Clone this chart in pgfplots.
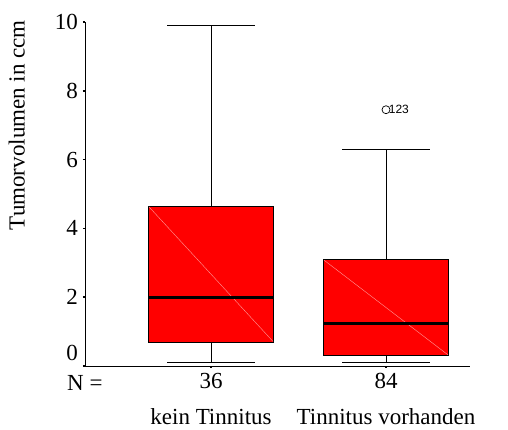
\documentclass[border=0pt]{standalone}
\usepackage{fontspec}
\setmainfont{Liberation Serif}
\newfontfamily\arialf{Liberation Sans}
\usepackage{pgfplots}
\pgfplotsset{compat=1.18}
\usepgfplotslibrary{statistics}
\begin{document}
\fontsize{23}{27}\selectfont
\begin{tikzpicture}
\path[use as bounding box] (-85pt,-64pt) rectangle (423pt,366pt);
\begin{axis}[
  at={(0,0)}, anchor=south west,
  scale only axis, width=385pt, height=344pt,
  xmin=0.28, xmax=2.48, ymin=0, ymax=10,
  axis lines=left, axis line style={-, line width=0.8pt, black},
  clip=false,
  ytick={2,4,6,8,10},
  extra y ticks={0},
  extra y tick style={yticklabel style={yshift=13pt}},
  xtick={1,2},
  xticklabels={{36\\[9pt]kein Tinnitus},{84\\[9pt]Tinnitus vorhanden}},
  xticklabel style={align=center, inner sep=5pt},
  yticklabel style={inner sep=5pt},
  tick align=outside, major tick length=2pt,
  tick style={line width=1.5pt, black},
  /pgf/number format/assume math mode=true,
  ylabel={Tumorvolumen in ccm},
  ylabel style={at={(axis description cs:-0.177,0.70)}, anchor=center},
  boxplot/draw direction=y,
  boxplot/box extend=0.714,
  boxplot/whisker extend=0.5,
  boxplot/every box/.style={fill=red, draw=black, line width=0.7pt},
  boxplot/every whisker/.style={black, line width=0.8pt},
  boxplot/every median/.style={black, line width=3pt},
]
\addplot+[boxplot prepared={draw position=1, lower whisker=0.11, lower quartile=0.69, median=2.0, upper quartile=4.65, upper whisker=9.91}, mark=none, black] coordinates {};
\addplot+[boxplot prepared={draw position=2, lower whisker=0.11, lower quartile=0.30, median=1.24, upper quartile=3.10, upper whisker=6.30}, mark=none, black] coordinates {};
\addplot[red!40!white, line width=0.4pt] coordinates {(0.645,4.63) (1.355,0.71)};
\addplot[red!40!white, line width=0.4pt] coordinates {(1.645,3.08) (2.355,0.32)};
\addplot[black, line width=3pt] coordinates {(0.643,2.0) (1.357,2.0)};
\addplot[black, line width=3pt] coordinates {(1.643,1.24) (2.357,1.24)};
\addplot[only marks, mark=o, mark size=4pt, black, line width=0.7pt,
  nodes near coords={123},
  every node near coord/.style={anchor=west, font=\arialf\fontsize{12}{14}\selectfont, inner sep=0.5pt, xshift=2pt}]
  coordinates {(2,7.45)};
\node[anchor=base west, inner sep=0pt] at ([xshift=-18pt,yshift=-25pt]axis description cs:0,0) {N =};
\end{axis}
\end{tikzpicture}
\end{document}
